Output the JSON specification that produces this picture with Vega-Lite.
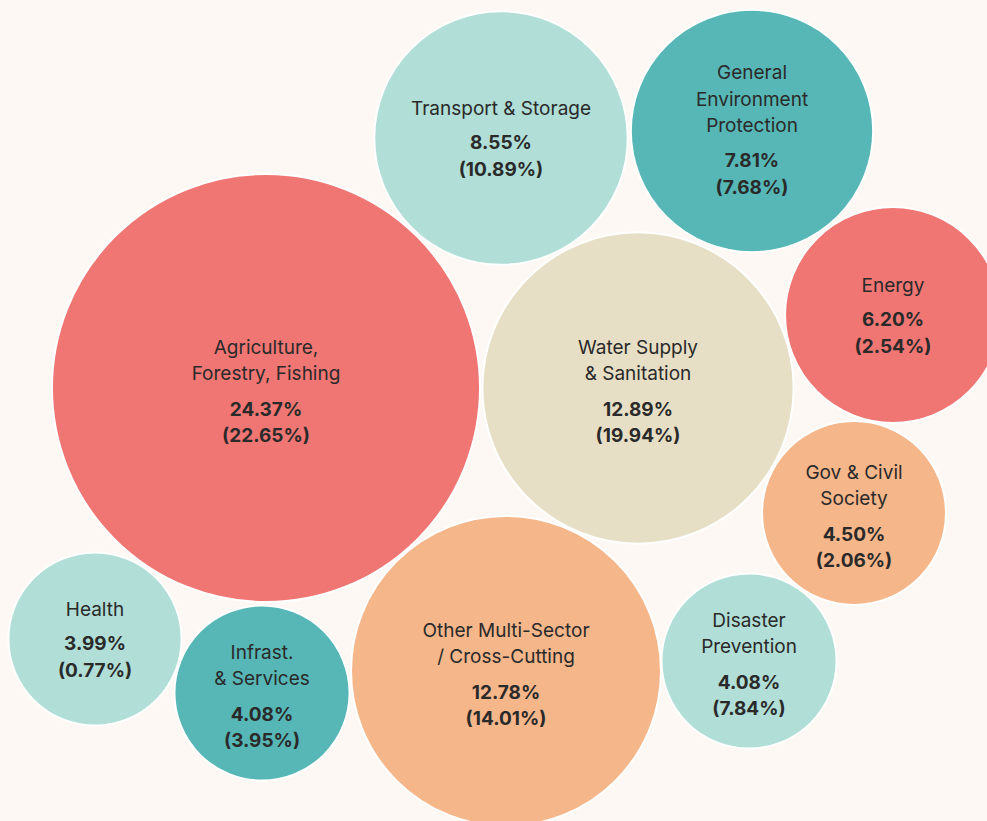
{
  "$schema": "https://vega.github.io/schema/vega-lite/v6.json",
  "width": 987,
  "height": 821,
  "autosize": {"type": "none"},
  "padding": 0,
  "background": "#FDF8F3",
  "config": {"view": {"stroke": null}},
  "data": {
    "values": [
      {"name": "Agriculture,\nForestry, Fishing", "lines": 2, "value": 24.37, "nums": "24.37%\n(22.65%)", "cx": 266, "cy": 388},
      {"name": "Transport & Storage", "lines": 1, "value": 8.55, "nums": "8.55%\n(10.89%)", "cx": 501, "cy": 138},
      {"name": "General\nEnvironment\nProtection", "lines": 3, "value": 7.81, "nums": "7.81%\n(7.68%)", "cx": 752, "cy": 131},
      {"name": "Energy", "lines": 1, "value": 6.20, "nums": "6.20%\n(2.54%)", "cx": 893, "cy": 315},
      {"name": "Water Supply\n& Sanitation", "lines": 2, "value": 12.89, "nums": "12.89%\n(19.94%)", "cx": 638, "cy": 388},
      {"name": "Gov & Civil\nSociety", "lines": 2, "value": 4.50, "nums": "4.50%\n(2.06%)", "cx": 854, "cy": 513},
      {"name": "Other Multi-Sector\n/ Cross-Cutting", "lines": 2, "value": 12.78, "nums": "12.78%\n(14.01%)", "cx": 506, "cy": 671},
      {"name": "Disaster\nPrevention", "lines": 2, "value": 4.08, "nums": "4.08%\n(7.84%)", "cx": 749, "cy": 661},
      {"name": "Health", "lines": 1, "value": 3.99, "nums": "3.99%\n(0.77%)", "cx": 95, "cy": 639},
      {"name": "Infrast.\n& Services", "lines": 2, "value": 4.08, "nums": "4.08%\n(3.95%)", "cx": 262, "cy": 693}
    ]
  },
  "encoding": {
    "x": {"field": "cx", "type": "quantitative", "scale": {"domain": [0, 987], "nice": false, "zero": false}, "axis": null},
    "y": {"field": "cy", "type": "quantitative", "scale": {"domain": [0, 821], "nice": false, "zero": false, "reverse": true}, "axis": null}
  },
  "layer": [
    {
      "mark": {"type": "circle", "opacity": 1, "stroke": "#FFFFFF", "strokeWidth": 2},
      "encoding": {
        "size": {"field": "value", "type": "quantitative", "scale": {"type": "linear", "domain": [0, 25], "range": [0, 187920], "zero": true}, "legend": null},
        "color": {
          "field": "name", "type": "nominal", "legend": null,
          "scale": {
            "domain": ["Agriculture,\nForestry, Fishing", "Transport & Storage", "General\nEnvironment\nProtection", "Energy", "Water Supply\n& Sanitation", "Gov & Civil\nSociety", "Other Multi-Sector\n/ Cross-Cutting", "Disaster\nPrevention", "Health", "Infrast.\n& Services"],
            "range": ["#F07673", "#B1DED6", "#56B7B6", "#F07673", "#E7DFC5", "#F5B68A", "#F5B68A", "#B1DED6", "#B1DED6", "#56B7B6"]
          }
        }
      }
    },
    {
      "transform": [{"filter": "datum.lines == 1"}],
      "mark": {"type": "text", "lineBreak": "\n", "font": "Inter", "fontSize": 19, "color": "#2A2A2A", "baseline": "middle", "lineHeight": 26, "dy": -29},
      "encoding": {"text": {"field": "name"}}
    },
    {
      "transform": [{"filter": "datum.lines == 2"}],
      "mark": {"type": "text", "lineBreak": "\n", "font": "Inter", "fontSize": 19, "color": "#2A2A2A", "baseline": "middle", "lineHeight": 26, "dy": -40},
      "encoding": {"text": {"field": "name"}}
    },
    {
      "transform": [{"filter": "datum.lines == 3"}],
      "mark": {"type": "text", "lineBreak": "\n", "font": "Inter", "fontSize": 19, "color": "#2A2A2A", "baseline": "middle", "lineHeight": 26.5, "dy": -58},
      "encoding": {"text": {"field": "name"}}
    },
    {
      "transform": [{"filter": "datum.lines == 1"}],
      "mark": {"type": "text", "lineBreak": "\n", "font": "Inter", "fontSize": 19, "fontWeight": "bold", "color": "#2A2A2A", "baseline": "middle", "lineHeight": 26.5, "dy": 5},
      "encoding": {"text": {"field": "nums"}}
    },
    {
      "transform": [{"filter": "datum.lines == 2"}],
      "mark": {"type": "text", "lineBreak": "\n", "font": "Inter", "fontSize": 19, "fontWeight": "bold", "color": "#2A2A2A", "baseline": "middle", "lineHeight": 26, "dy": 22},
      "encoding": {"text": {"field": "nums"}}
    },
    {
      "transform": [{"filter": "datum.lines == 3"}],
      "mark": {"type": "text", "lineBreak": "\n", "font": "Inter", "fontSize": 19, "fontWeight": "bold", "color": "#2A2A2A", "baseline": "middle", "lineHeight": 27, "dy": 30},
      "encoding": {"text": {"field": "nums"}}
    }
  ]
}
